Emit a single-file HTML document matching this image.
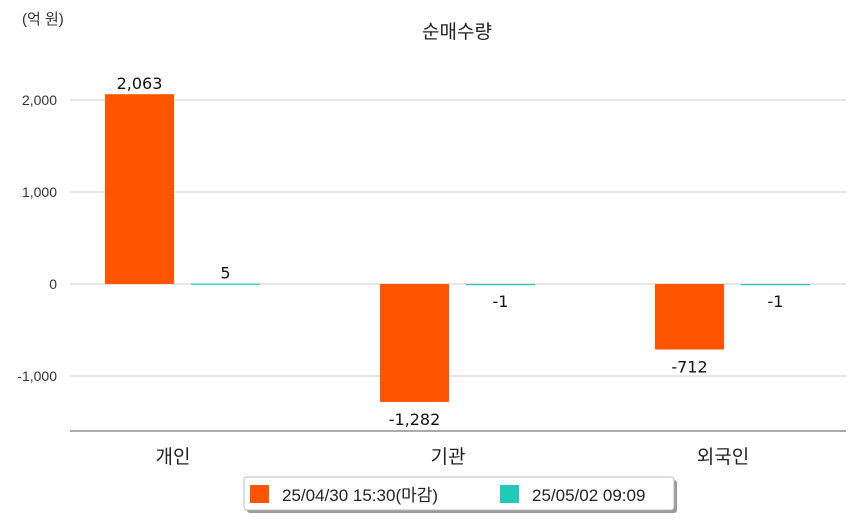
<!DOCTYPE html>
<html><head><meta charset="utf-8"><style>
body{margin:0;background:#fff;font-family:"Liberation Sans","Noto Sans CJK KR",sans-serif;}
svg text{font-family:"Liberation Sans","Noto Sans CJK KR",sans-serif;}
svg text.v{font-family:"DejaVu Sans","Noto Sans CJK KR",sans-serif;}
</style></head><body>
<svg id="c" width="854" height="520" xmlns="http://www.w3.org/2000/svg">
<text x="22" y="24" font-size="15" fill="#333">(억 원)</text>
<text x="457" y="38" font-size="19" fill="#222" text-anchor="middle">순매수량</text>
<g id="grid"></g><g id="bars"></g>
<line x1="70" y1="431" x2="846" y2="431" stroke="#777" stroke-width="1.2"/>
<g>
<rect x="247" y="480" width="430" height="33" fill="#999" rx="3"/>
<rect x="244" y="477" width="430" height="33" fill="#fff" stroke="#bbb" rx="3"/>
<rect x="250" y="485" width="19" height="18" fill="#ff5500"/>
<text x="282" y="501" font-size="17" fill="#222">25/04/30 15:30(마감)</text>
<rect x="500" y="485" width="19" height="18" fill="#20c9b8"/>
<text x="532" y="501" font-size="17" fill="#222">25/05/02 09:09</text>
</g>
</svg>
<script>
const categories=["개인","기관","외국인"];
const series1=[2063,-1282,-712];
const series2=[5,-1,-1];
const ticks=[2000,1000,0,-1000];
const tickLabels=["2,000","1,000","0","-1,000"];
const NS="http://www.w3.org/2000/svg";
function y(v){return 284-v*0.092;}
function gx(i){return 183+i*275;}
function mk(t,a,p){const e=document.createElementNS(NS,t);for(const k in a)e.setAttribute(k,a[k]);p.appendChild(e);return e;}
const g=document.getElementById('grid'),b=document.getElementById('bars');
ticks.forEach((t,i)=>{
 const l=mk('line',{x1:70,x2:846,y1:y(t),y2:y(t),stroke:'#ccc'},g);
 
 
 const tx=mk('text',{x:57,y:y(t)+5,'font-size':14,fill:'#333','text-anchor':'end'},g);
 tx.textContent=tickLabels[i];
 
 
});
function fmt(v){return v.toLocaleString('en-US');}
categories.forEach((c,i)=>{
 const cx=gx(i);
 [[series1[i],'#ff5500',cx-78],[series2[i],'#20c9b8',cx+8]].forEach(([v,col,x],k)=>{
  const top=Math.min(y(v),y(0)),h=Math.max(Math.abs(y(v)-y(0)),1.2);
  const r=mk('rect',{x:x,y:top,width:69,height:h,fill:col},b);
  
  
  const ly=v>=0?top-5:y(0)+Math.abs(y(v)-y(0))+23;
  const t=mk('text',{x:x+34.5,y:ly,'font-size':16,fill:'#111','text-anchor':'middle','class':'v'},b);
  t.textContent=fmt(v);
  
  
 });
 const t=mk('text',{x:cx-10,y:463,'font-size':19,fill:'#222','text-anchor':'middle'},b);
 t.textContent=c;
 
 
});
</script>
</body></html>
